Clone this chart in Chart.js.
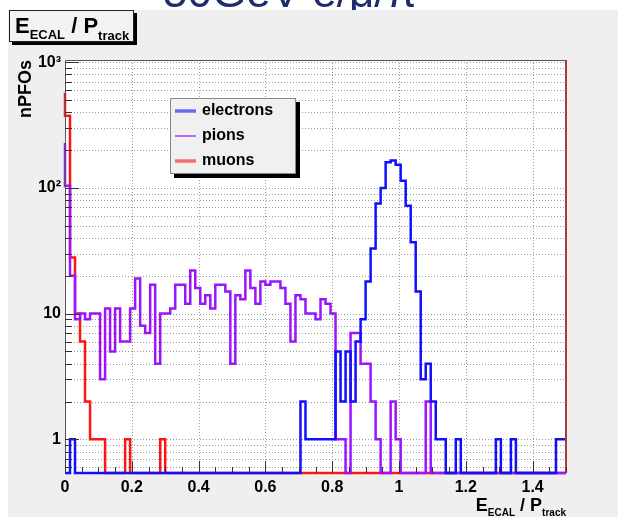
<!DOCTYPE html>
<html>
<head>
<meta charset="utf-8">
<script src="https://cdn.jsdelivr.net/npm/chart.js@4.4.1/dist/chart.umd.min.js"></script>
<style>
  html, body { margin: 0; padding: 0; background: #fff; }
  canvas { display: block; }
</style>
</head>
<body>
<canvas id="eop" width="618" height="517"></canvas>
<script>
// E_ECAL / P_track per particle type, 100 bins of 0.015 from 0 to 1.5
const BIN_WIDTH = 0.015;

const electrons = [
  0, 0, 1, 0, 0, 0, 0, 0, 0, 0,
  0, 0, 0, 0, 0, 0, 0, 0, 0, 0,
  0, 0, 0, 0, 0, 0, 0, 0, 0, 0,
  0, 0, 0, 0, 0, 0, 0, 0, 0, 0,
  0, 0, 0, 0, 0, 0, 0, 0, 2, 1,
  1, 1, 1, 1, 1, 5, 2, 5, 2, 6,
  9, 18, 33, 75, 100, 160, 165, 153, 114, 72,
  37, 15, 3, 4, 2, 1, 1, 0, 0, 1,
  0, 0, 0, 0, 0, 0, 0, 1, 0, 0,
  1, 0, 0, 0, 0, 0, 0, 0, 0, 1
];

const pions = [
  227, 104, 20, 9, 10, 9, 10, 10, 3, 11,
  5, 11, 6, 6, 11, 19, 8, 7, 17, 4,
  10, 10, 11, 17, 17, 12, 22, 16, 12, 14,
  11, 17, 17, 15, 4, 14, 13, 22, 16, 12,
  18, 17, 18, 18, 16, 12, 6, 14, 13, 10,
  10, 9, 13, 12, 10, 1, 1, 0, 7, 7,
  4, 4, 2, 1, 0, 0, 2, 1, 0, 0,
  0, 0, 0, 2, 0, 0, 0, 0, 0, 0,
  0, 0, 0, 0, 0, 0, 0, 0, 0, 0,
  0, 0, 0, 0, 0, 0, 0, 0, 0, 0
];

const muons = [
  570, 375, 28, 10, 6, 2, 1, 1, 1, 0,
  0, 0, 0, 1, 0, 0, 0, 0, 0, 0,
  1, 0, 0, 0, 0, 0, 0, 0, 0, 0,
  0, 0, 0, 0, 0, 0, 0, 0, 0, 0,
  0, 0, 0, 0, 0, 0, 0, 0, 0, 0,
  0, 0, 0, 0, 0, 0, 0, 0, 0, 0,
  0, 0, 0, 0, 0, 0, 0, 0, 0, 0,
  0, 0, 0, 0, 0, 0, 0, 0, 0, 0,
  0, 0, 0, 0, 0, 0, 0, 0, 0, 0,
  0, 0, 0, 0, 0, 0, 0, 0, 0, 0
];

const X_TICKS = [0, 0.2, 0.4, 0.6, 0.8, 1, 1.2, 1.4];
const X_TICK_LABELS = ['0', '0.2', '0.4', '0.6', '0.8', '1', '1.2', '1.4'];
const Y_DECADES = [1, 10, 100, 1000];
const Y_DECADE_LABELS = ['1', '10', '10²', '10³'];
const X_MIN = 0, X_MAX = 1.5;
const Y_MIN = 0.54, Y_MAX = 1040;

const FONT = "'Liberation Sans', Arial, Helvetica, sans-serif";
const BLUE = '#1010ff';
const VIOLET = '#9a14ff';
const RED = '#ff1414';

// empty bins sit on the bottom of the log frame
function histPoints(counts) {
  const pts = counts.map((c, i) => ({ x: i * BIN_WIDTH, y: c > 0 ? c : Y_MIN }));
  pts.push({ x: counts.length * BIN_WIDTH, y: pts[pts.length - 1].y });
  return pts;
}

// minor grid: 1..9 x each decade inside the axis range
const yGrid = [];
for (let n = -1; n <= 3; n++) {
  for (let k = 1; k <= 9; k++) {
    const v = k * Math.pow(10, n);
    if (v >= Y_MIN && v <= Y_MAX) yGrid.push(n >= 0 && k === 1 ? Math.pow(10, n) : v);
  }
}

function drawSubText(ctx, x, y, parts, align) {
  let w = 0;
  parts.forEach(p => { ctx.font = `bold ${p[1]}px ${FONT}`; w += ctx.measureText(p[0]).width; });
  let cx = align === 'right' ? x - w : x;
  ctx.textAlign = 'left';
  ctx.textBaseline = 'alphabetic';
  parts.forEach(p => {
    ctx.font = `bold ${p[1]}px ${FONT}`;
    ctx.fillText(p[0], cx, y + p[2]);
    cx += ctx.measureText(p[0]).width;
  });
}

const rootFrame = {
  id: 'rootFrame',
  beforeDraw(chart) {
    const { ctx, chartArea: a } = chart;
    ctx.save();
    ctx.fillStyle = '#fff';
    ctx.fillRect(0, 0, chart.width, chart.height);
    // slide heading, mostly hidden behind the canvas pad
    ctx.fillStyle = '#1f2c6c';
    ctx.font = `44px ${FONT}`;
    ctx.textAlign = 'left';
    ctx.textBaseline = 'alphabetic';
    ctx.fillText('50GeV e/μ/π', 163, 7);
    ctx.fillStyle = '#efefef';
    ctx.fillRect(8, 10, chart.width - 8, chart.height - 10);
    ctx.fillStyle = '#fff';
    ctx.fillRect(a.left, a.top, a.right - a.left, a.bottom - a.top);

    // histogram title pave
    ctx.fillStyle = '#000';
    ctx.fillRect(12, 13, 125, 32);
    ctx.fillStyle = '#f2f2f2';
    ctx.fillRect(9, 10, 125, 32);
    ctx.strokeStyle = '#222';
    ctx.lineWidth = 1;
    ctx.strokeRect(9.5, 10.5, 124, 31);
    ctx.fillStyle = '#000';
    drawSubText(ctx, 15, 33, [['E', 22, 0], ['ECAL', 13, 6], [' / ', 22, 0], ['P', 22, 0], ['track', 13, 7]], 'left');
    ctx.restore();
  },
  beforeDatasetsDraw(chart) {
    const { ctx, chartArea: a, scales: { x, y } } = chart;
    ctx.save();
    ctx.lineWidth = 1;
    ctx.strokeStyle = '#9c9c9c';
    ctx.setLineDash([1, 2]);
    X_TICKS.forEach(v => {
      if (v === X_MIN) return;
      const px = Math.round(x.getPixelForValue(v)) + 0.5;
      ctx.beginPath();
      ctx.moveTo(px, a.top);
      ctx.lineTo(px, a.bottom);
      ctx.stroke();
    });
    y.ticks.forEach(t => {
      const py = Math.round(y.getPixelForValue(t.value)) + 0.5;
      ctx.beginPath();
      ctx.moveTo(a.left, py);
      ctx.lineTo(a.right, py);
      ctx.stroke();
    });
    ctx.restore();
  },
  afterDatasetsDraw(chart) {
    const { ctx, chartArea: a, scales: { x, y } } = chart;
    ctx.save();
    // frame
    ctx.lineWidth = 1;
    ctx.strokeStyle = '#555';
    ctx.beginPath();
    ctx.moveTo(a.left + 0.5, a.bottom);
    ctx.lineTo(a.left + 0.5, a.top + 0.5);
    ctx.lineTo(a.right, a.top + 0.5);
    ctx.stroke();
    ctx.strokeStyle = '#a83c3c';
    ctx.lineWidth = 2;
    ctx.beginPath();
    ctx.moveTo(a.right, a.top);
    ctx.lineTo(a.right, a.bottom);
    ctx.stroke();

    // inward tick marks
    ctx.strokeStyle = '#333';
    ctx.lineWidth = 1;
    y.ticks.forEach(t => {
      const py = Math.round(y.getPixelForValue(t.value)) + 0.5;
      const len = Y_DECADES.includes(t.value) ? 14 : 7;
      ctx.beginPath();
      ctx.moveTo(a.left, py);
      ctx.lineTo(a.left + len, py);
      ctx.stroke();
    });
    for (let i = 0; i <= 30; i++) {
      const v = i * 0.05;
      const px = Math.round(x.getPixelForValue(v)) + 0.5;
      const len = i % 4 === 0 ? 12 : 6;
      ctx.beginPath();
      ctx.moveTo(px, a.bottom);
      ctx.lineTo(px, a.bottom - len);
      ctx.stroke();
    }

    // legend
    const lx = 170, ly = 98, lw = 126, lh = 76;
    ctx.fillStyle = '#000';
    ctx.fillRect(lx + 4, ly + 4, lw, lh);
    ctx.fillStyle = '#f0f0f0';
    ctx.fillRect(lx, ly, lw, lh);
    ctx.strokeStyle = '#888';
    ctx.strokeRect(lx + 0.5, ly + 0.5, lw - 1, lh - 1);
    chart.data.datasets.forEach((ds, i) => {
      const cy = ly + 13 + i * 25;
      ctx.globalAlpha = 0.6;
      ctx.strokeStyle = ds.borderColor;
      ctx.lineWidth = i === 1 ? 2 : 3.5;
      ctx.beginPath();
      ctx.moveTo(lx + 5, cy);
      ctx.lineTo(lx + 26, cy);
      ctx.stroke();
      ctx.globalAlpha = 1;
      ctx.fillStyle = '#000';
      ctx.font = `bold 16px ${FONT}`;
      ctx.textAlign = 'left';
      ctx.textBaseline = 'middle';
      ctx.fillText(ds.label, lx + 32, cy);
    });

    // axis titles
    ctx.save();
    ctx.translate(26, a.top);
    ctx.rotate(-Math.PI / 2);
    ctx.font = `bold 18px ${FONT}`;
    ctx.textAlign = 'right';
    ctx.textBaseline = 'middle';
    ctx.fillStyle = '#000';
    ctx.fillText('nPFOs', 0, 0);
    ctx.restore();
    ctx.fillStyle = '#000';
    drawSubText(ctx, a.right, 511, [['E', 18, 0], ['ECAL', 10, 5], [' / ', 18, 0], ['P', 18, 0], ['track', 10, 5]], 'right');
    ctx.restore();
  }
};

new Chart(document.getElementById('eop'), {
  type: 'line',
  data: {
    datasets: [
      { label: 'electrons', data: histPoints(electrons), borderColor: BLUE, order: 0 },
      { label: 'pions', data: histPoints(pions), borderColor: VIOLET, order: 1 },
      { label: 'muons', data: histPoints(muons), borderColor: RED, order: 2 }
    ].map(ds => ({ ...ds, stepped: 'after', borderWidth: 2.5, pointRadius: 0, fill: false, tension: 0, clip: 4 }))
  },
  options: {
    responsive: false,
    animation: false,
    layout: { padding: { left: 0, top: 60, right: 52, bottom: 0 } },
    plugins: { legend: { display: false }, tooltip: { enabled: false } },
    scales: {
      x: {
        type: 'linear', min: X_MIN, max: X_MAX,
        grid: { display: false, drawTicks: false }, border: { display: false },
        afterBuildTicks: s => { s.ticks = X_TICKS.map(v => ({ value: v })); },
        afterFit: s => { s.height = 44; },
        ticks: {
          autoSkip: false, maxRotation: 0, padding: 5, color: '#000',
          font: { family: FONT, size: 16, weight: 'bold' },
          callback: (v, i) => X_TICK_LABELS[i]
        }
      },
      y: {
        type: 'logarithmic', min: Y_MIN, max: Y_MAX,
        grid: { display: false, drawTicks: false }, border: { display: false },
        afterBuildTicks: s => { s.ticks = yGrid.map(v => ({ value: v })); },
        afterFit: s => { s.width = 65; },
        ticks: {
          autoSkip: false, padding: 4, color: '#000',
          font: { family: FONT, size: 16, weight: 'bold' },
          callback: v => {
            const i = Y_DECADES.indexOf(v);
            return i >= 0 ? Y_DECADE_LABELS[i] : '';
          }
        }
      }
    }
  },
  plugins: [rootFrame]
});
</script>
</body>
</html>
